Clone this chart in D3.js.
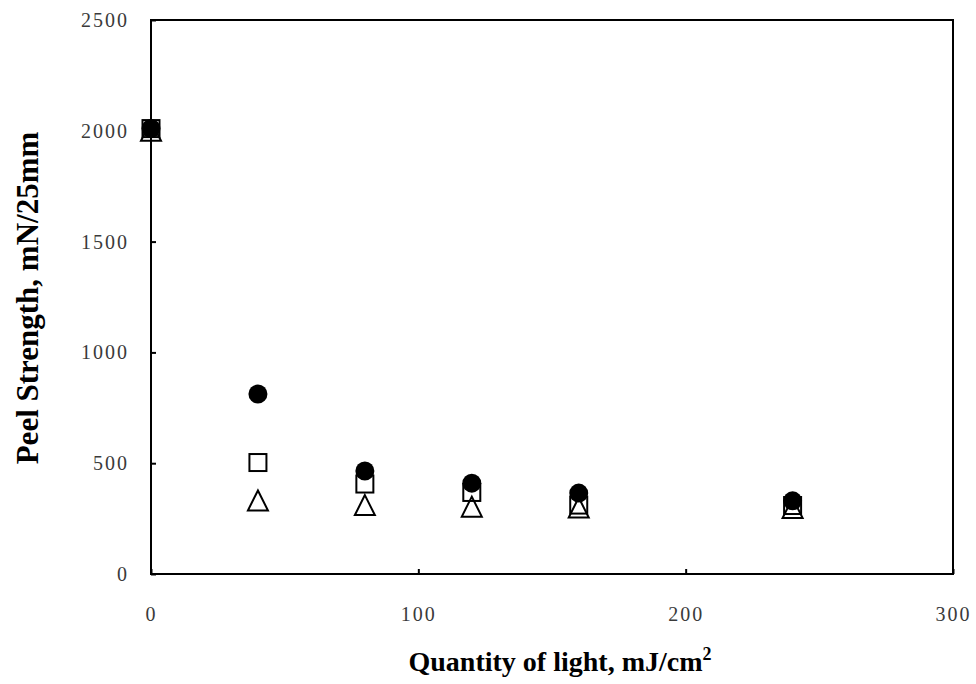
<!DOCTYPE html>
<html>
<head>
<meta charset="utf-8">
<script src="https://cdn.jsdelivr.net/npm/d3@7"></script>
<style>
  html, body { margin: 0; padding: 0; background: #fff; }
  svg { display: block; }
</style>
</head>
<body>
<svg id="chart" width="976" height="684"></svg>
<script>
// Peel strength vs. quantity of light, three samples
const lightDose = [0, 40, 80, 120, 160, 240];
const seriesCircle = [2010, 812, 465, 410, 365, 330];   // filled circles
const seriesSquare = [2010, 503, 406, 368, 311, 309];   // open squares
const seriesTriangle = [2000, 332, 311, 304, 300, 298]; // open triangles
const xTicks = [0, 100, 200, 300];
const yTicks = [0, 500, 1000, 1500, 2000, 2500];

const svg = d3.select("#chart");
const margin = { left: 151, top: 20, right: 23, bottom: 110 };
const W = 976, H = 684;

const x = d3.scaleLinear().domain([0, 300]).range([margin.left, W - margin.right]);
const y = d3.scaleLinear().domain([0, 2500]).range([H - margin.bottom, margin.top]);

// frame
svg.append("rect")
  .attr("x", x(0)).attr("y", y(2500))
  .attr("width", x(300) - x(0)).attr("height", y(0) - y(2500))
  .attr("fill", "none").attr("stroke", "#000").attr("stroke-width", 2);

const tickFont = "'Liberation Serif', 'DejaVu Serif', serif";
const fmt = d3.format("d");

// axes with inward ticks
const xAxis = d3.axisBottom(x).tickValues(xTicks).tickFormat(fmt)
  .tickSizeInner(-5).tickSizeOuter(0).tickPadding(33);
const yAxis = d3.axisLeft(y).tickValues(yTicks).tickFormat(fmt)
  .tickSizeInner(-5).tickSizeOuter(0).tickPadding(22);

const gx = svg.append("g").attr("transform", `translate(0,${y(0)})`).call(xAxis);
const gy = svg.append("g").attr("transform", `translate(${x(0)},0)`).call(yAxis);
[gx, gy].forEach(g => {
  g.attr("font-size", null).attr("font-family", null);
  g.select(".domain").remove();
  g.selectAll(".tick line").attr("stroke", "#000").attr("stroke-width", 2);
  g.selectAll(".tick text")
    .attr("fill", "#3a3a3a")
    .style("font-family", tickFont)
    .style("font-size", "20px")
    .style("letter-spacing", "2px");
});

// axis titles
svg.append("text")
  .attr("x", (x(0) + x(300)) / 2 + 8)
  .attr("y", 671)
  .attr("text-anchor", "middle")
  .style("font-family", "'Liberation Serif', serif")
  .style("font-weight", "bold")
  .style("font-size", "28px")
  .attr("fill", "#000")
  .call(t => {
    t.append("tspan").text("Quantity of light, mJ/cm");
    t.append("tspan").attr("dy", -11).style("font-size", "18px").text("2");
  });

svg.append("text")
  .attr("transform", `translate(38,${(y(0) + y(2500)) / 2 + 1}) rotate(-90)`)
  .attr("text-anchor", "middle")
  .style("font-family", "'Liberation Serif', serif")
  .style("font-weight", "bold")
  .style("font-size", "31px")
  .attr("fill", "#000")
  .text("Peel Strength, mN/25mm");

const pts = vals => lightDose.map((d, i) => ({ x: d, y: vals[i] }));

// open squares
svg.append("g").selectAll("rect")
  .data(pts(seriesSquare)).join("rect")
  .attr("x", d => x(d.x) - 8.5).attr("y", d => y(d.y) - 8.5)
  .attr("width", 17).attr("height", 17)
  .attr("fill", "none").attr("stroke", "#000").attr("stroke-width", 2);

// open triangles (centered in their bounding box)
const triPath = (cx, cy) => {
  const h = 10;
  return `M${cx},${cy - h}L${cx + 10},${cy + h}L${cx - 10},${cy + h}Z`;
};
svg.append("g").selectAll("path")
  .data(pts(seriesTriangle)).join("path")
  .attr("d", d => triPath(x(d.x), y(d.y)))
  .attr("fill", "none").attr("stroke", "#000").attr("stroke-width", 2)
  .attr("stroke-linejoin", "miter");

// filled circles
svg.append("g").selectAll("circle")
  .data(pts(seriesCircle)).join("circle")
  .attr("cx", d => x(d.x)).attr("cy", d => y(d.y))
  .attr("r", 9.5)
  .attr("fill", "#000");
</script>
</body>
</html>
